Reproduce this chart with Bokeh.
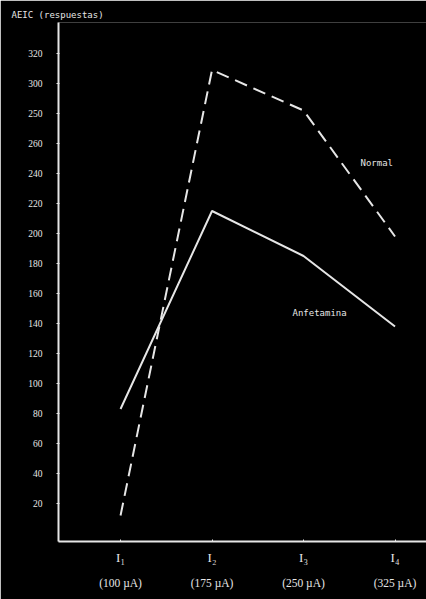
from bokeh.plotting import figure
from bokeh.models import Range1d, FixedTicker, LinearAxis, Label
from bokeh.embed import file_html
from bokeh.resources import INLINE

# ---- data ----
stimulus_pos = [1, 2, 3, 4]
stimulus_labels = ["I\u2081", "I\u2082", "I\u2083", "I\u2084"]
current_labels = ["(100 \u00b5A)", "(175 \u00b5A)", "(250 \u00b5A)", "(325 \u00b5A)"]
normal = [12, 309, 282, 198]
anfetamina = [83, 215, 185, 138]
y_ticks = [20, 40, 60, 80, 100, 120, 140, 160, 180, 200, 220, 240, 260, 280, 300, 320]
y_tick_text = ["20", "40", "60", "80", "100", "120", "140", "160", "180", "200",
               "220", "240", "260", "250", "300", "320"]
title_text = "AEIC   (respuestas)"

FG = "#e6e6e6"
SERIF = "Liberation Serif"
MONO = "DejaVu Sans Mono"

p = figure(width=426, height=599, output_backend="svg", toolbar_location=None,
           x_range=Range1d(0.322, 4.344), y_range=Range1d(-5.33, 340.67),
           background_fill_color="black", border_fill_color="black",
           outline_line_color=None, min_border_left=58, min_border_right=0,
           min_border_top=22, min_border_bottom=58,
           x_axis_location=None, y_axis_location=None)
p.xgrid.visible = False
p.ygrid.visible = False

p.title.text = title_text
p.title.align = "left"
p.title.offset = -47
p.title.text_color = FG
p.title.text_font = MONO
p.title.text_font_size = "9px"
p.title.text_font_style = "normal"
p.title.standoff = 6

# y axis
ya = LinearAxis(ticker=FixedTicker(ticks=y_ticks),
                major_label_overrides={t: s for t, s in zip(y_ticks, y_tick_text)})
ya.axis_line_color = FG
ya.axis_line_width = 2
ya.major_tick_line_color = FG
ya.major_tick_in = 1
ya.major_tick_out = 2
ya.minor_tick_line_color = None
ya.major_label_standoff = 14
ya.major_label_text_color = FG
ya.major_label_text_font = SERIF
ya.major_label_text_font_size = "9.5px"
p.add_layout(ya, "left")

# x axis (stimulus labels)
xa = LinearAxis(ticker=FixedTicker(ticks=stimulus_pos),
                major_label_overrides={t: s for t, s in zip(stimulus_pos, stimulus_labels)})
xa.axis_line_color = FG
xa.axis_line_width = 2
xa.major_tick_line_color = FG
xa.major_tick_in = 2
xa.major_tick_out = 0
xa.minor_tick_line_color = None
xa.major_label_standoff = 8
xa.major_label_text_color = FG
xa.major_label_text_font = SERIF
xa.major_label_text_font_size = "13px"
p.add_layout(xa, "below")

# second x axis (current labels)
xb = LinearAxis(ticker=FixedTicker(ticks=stimulus_pos),
                major_label_overrides={t: s for t, s in zip(stimulus_pos, current_labels)})
xb.axis_line_color = None
xb.major_tick_line_color = None
xb.minor_tick_line_color = None
xb.major_label_standoff = 3
xb.major_label_text_color = FG
xb.major_label_text_font = SERIF
xb.major_label_text_font_size = "11.5px"
p.add_layout(xb, "below")

# lines
p.line(stimulus_pos, normal, line_color=FG, line_width=2, line_dash="13 7")
p.line(stimulus_pos, anfetamina, line_color=FG, line_width=2)

# labels
p.add_layout(Label(x=3.623, y=246.7, text="Normal", text_color=FG, text_font=MONO,
                   text_font_size="9px", text_baseline="middle"))
p.add_layout(Label(x=2.879, y=146.7, text="Anfetamina", text_color=FG, text_font=MONO,
                   text_font_size="9px", text_baseline="middle"))

open("out.html", "w").write(file_html(p, INLINE))
